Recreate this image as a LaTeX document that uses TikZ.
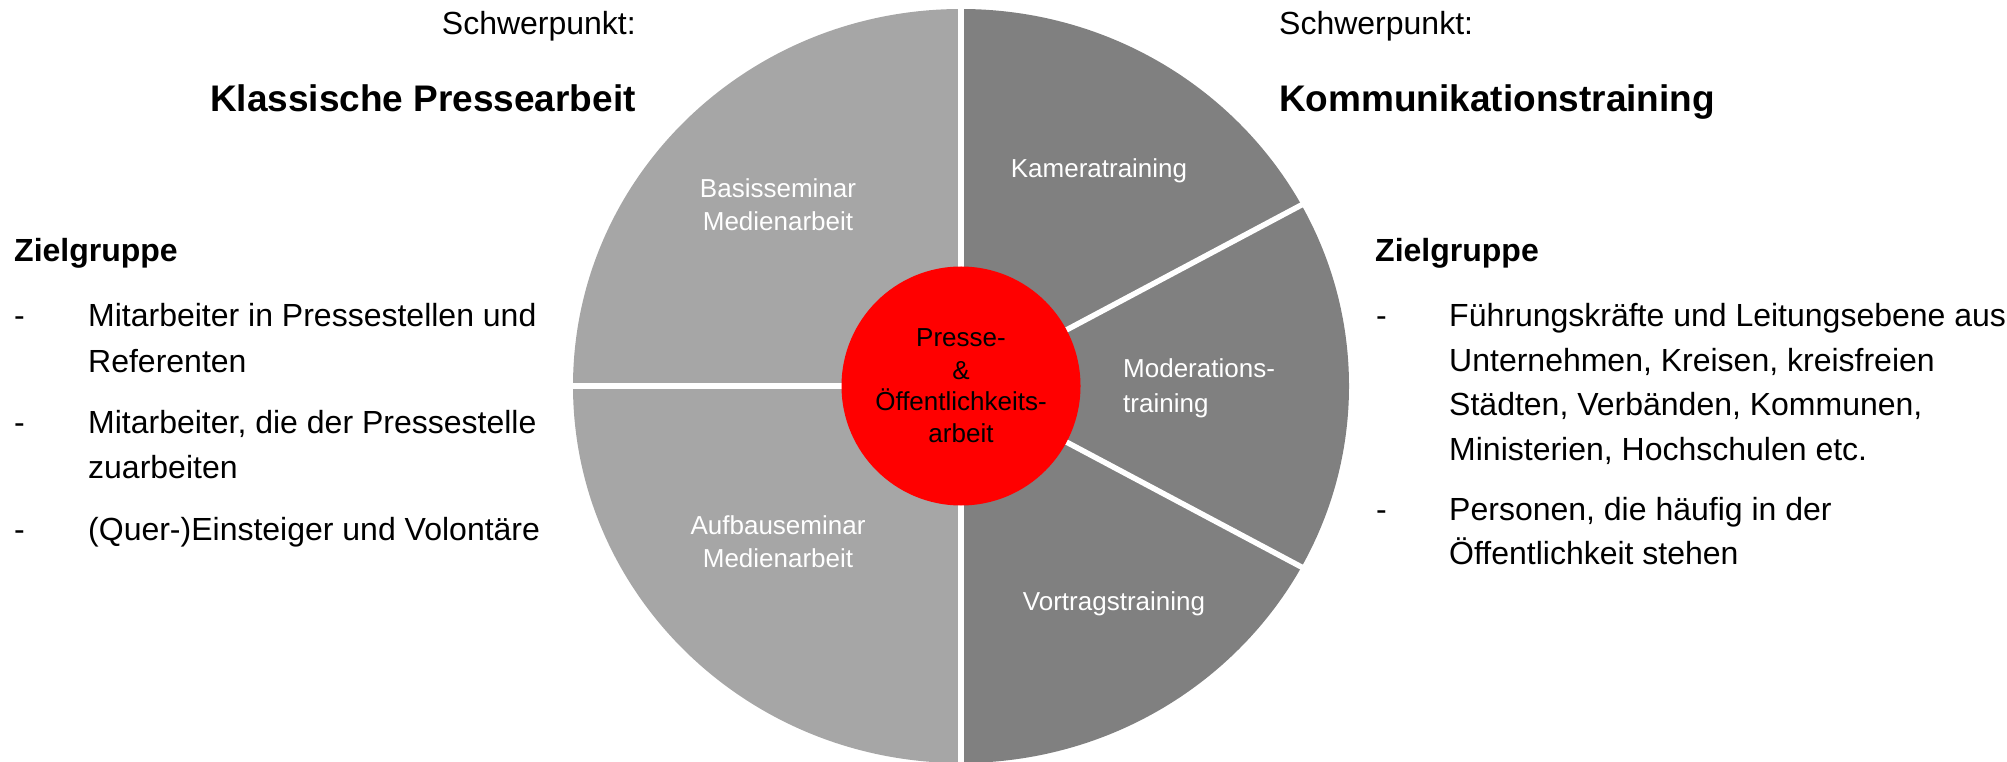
\documentclass[tikz,border=0pt]{standalone}
\usepackage{fontspec}
\setmainfont{Liberation Sans}
\definecolor{lgrey}{HTML}{A6A6A6}
\definecolor{dgrey}{HTML}{808080}
\definecolor{pred}{HTML}{FF0000}
\begin{document}
\begin{tikzpicture}[x=1pt,y=1pt,
  txt/.style={inner sep=0pt, font=\fontsize{32}{38}\selectfont},
  bodyl/.style={txt, anchor=base west},
  bodyr/.style={txt, anchor=base east},
  headl/.style={inner sep=0pt, anchor=base west, font=\fontsize{37}{44}\selectfont\bfseries},
  headr/.style={inner sep=0pt, anchor=base east, font=\fontsize{37}{44}\selectfont\bfseries},
  zg/.style={inner sep=0pt, anchor=base west, font=\fontsize{32}{38}\selectfont\bfseries},
  pie/.style={inner sep=0pt, text=white, font=\fontsize{26}{32}\selectfont},
  core/.style={inner sep=0pt, anchor=base, text=black, font=\fontsize{26}{32}\selectfont},
  gap/.style={white, line width=5.5pt}
]
\useasboundingbox (0,0) rectangle (2007,761);
\coordinate (C) at (961,375);
% pie halves
\fill[lgrey] (C) -- ++(0,377) arc[start angle=90,end angle=270,x radius=388,y radius=377] -- cycle;
\fill[dgrey] (C) -- ++(0,-377) arc[start angle=-90,end angle=90,x radius=388,y radius=377] -- cycle;
% dividers
\coordinate (vt) at (961,770);
\coordinate (vb) at (961,-10);
\coordinate (hl) at (560,375);
\draw[gap] (vt) -- (vb);
\draw[gap] (C) -- (hl);
\draw[gap] (C) -- ++(28:400pt);
\draw[gap] (C) -- ++(-28:400pt);
% centre
\node[circle, fill=pred, minimum size=239pt, inner sep=0pt] (hub) at (C) {};
\node[core] (c1) at (961,414) {Presse-};
\node[core] (c2) at (961,381) {\&};
\node[core] (c3) at (961,350) {Öffentlichkeits-};
\node[core] (c4) at (961,318) {arbeit};
% segment labels
\node[pie, anchor=base] (b1) at (778,563) {Basisseminar};
\node[pie, anchor=base] (b2) at (778,530) {Medienarbeit};
\node[pie, anchor=base] (a1) at (778,227) {Aufbauseminar};
\node[pie, anchor=base] (a2) at (778,194) {Medienarbeit};
\node[pie, anchor=base] (k1) at (1099,583) {Kameratraining};
\node[pie, anchor=base west] (m1) at (1123,383) {Moderations-};
\node[pie, anchor=base west] (m2) at (1123,348) {training};
\node[pie, anchor=base] (v1) at (1114,151) {Vortragstraining};
% left text
\node[bodyr] (spl) at (636,726) {Schwerpunkt:};
\node[headr] (hdl) at (636,649) {Klassische Pressearbeit};
\node[zg] (zgl) at (14,499) {Zielgruppe};
\node[bodyl] (dl1) at (14,434) {-};
\node[bodyl] (tl1) at (88,434) {Mitarbeiter in Pressestellen und};
\node[bodyl] (tl2) at (88,388) {Referenten};
\node[bodyl] (dl2) at (14,327) {-};
\node[bodyl] (tl3) at (88,327) {Mitarbeiter, die der Pressestelle};
\node[bodyl] (tl4) at (88,283) {zuarbeiten};
\node[bodyl] (dl3) at (14,221) {-};
\node[bodyl] (tl5) at (88,221) {(Quer-)Einsteiger und Volontäre};
% right text
\node[bodyl] (spr) at (1279,726) {Schwerpunkt:};
\node[headl] (hdr) at (1279,649) {Kommunikationstraining};
\node[zg] (zgr) at (1375,499) {Zielgruppe};
\node[bodyl] (dr1) at (1376,434) {-};
\node[bodyl] (tr1) at (1449,434) {Führungskräfte und Leitungsebene aus};
\node[bodyl] (tr2) at (1449,389.5) {Unternehmen, Kreisen, kreisfreien};
\node[bodyl] (tr3) at (1449,345) {Städten, Verbänden, Kommunen,};
\node[bodyl] (tr4) at (1449,300.5) {Ministerien, Hochschulen etc.};
\node[bodyl] (dr2) at (1376,241) {-};
\node[bodyl] (tr5) at (1449,241) {Personen, die häufig in der};
\node[bodyl] (tr6) at (1449,196.5) {Öffentlichkeit stehen};
\end{tikzpicture}
\end{document}
